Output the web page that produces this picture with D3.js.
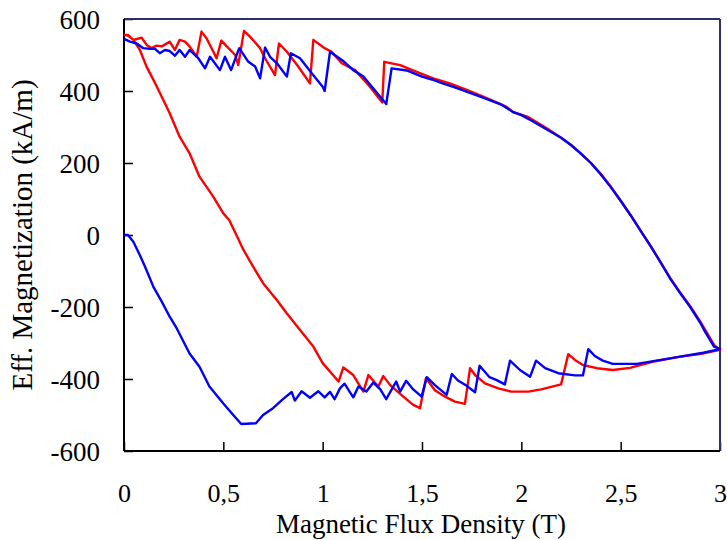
<!DOCTYPE html>
<html>
<head>
<meta charset="utf-8">
<script src="https://cdn.jsdelivr.net/npm/d3@7"></script>
<style>
  body { margin: 0; background: #fff; }
  svg { display: block; }
</style>
</head>
<body>
<svg id="svg1" width="727" height="540"></svg>
<script>
// tick values
var xTicks = [0, 0.5, 1, 1.5, 2, 2.5, 3];
var yTicks = [-600, -400, -200, 0, 200, 400, 600];

// red loop: descending branch, lower branch, upper branch (left to right)
var redDown = [[0,556],[0.02,556],[0.047,542],[0.08,514],[0.114,467],[0.148,431],[0.198,375],[0.23,338],
  [0.28,273],[0.33,227],[0.38,162],[0.45,106],[0.5,60],[0.53,41],[0.57,-5],[0.6,-40],[0.65,-88],[0.7,-134],
  [0.77,-181],[0.82,-218],[0.886,-264],[0.953,-310],[1.0,-356],[1.08,-407]];
var redLower = [[1.104,-368],[1.154,-389],[1.205,-435],[1.23,-389],[1.28,-421],[1.305,-392],[1.34,-417],
  [1.406,-449],[1.456,-472],[1.49,-481],[1.52,-398],[1.565,-431],[1.616,-449],[1.666,-463],[1.716,-469],
  [1.742,-370],[1.767,-389],[1.817,-412],[1.884,-426],[1.95,-435],[2.035,-435],[2.1,-429],[2.2,-415],
  [2.236,-331],[2.27,-347],[2.31,-361],[2.38,-370],[2.46,-375],[2.547,-369],[2.66,-352],[2.8,-338],
  [2.916,-329],[3.0,-319]];
var redUpper = [[0,556],[0.02,554],[0.047,542],[0.089,548],[0.114,528],[0.139,519],[0.164,526],[0.19,524],
  [0.23,537],[0.256,514],[0.28,542],[0.307,537],[0.33,524],[0.366,495],[0.39,565],[0.416,546],[0.466,491],
  [0.49,540],[0.517,524],[0.56,500],[0.575,472],[0.604,567],[0.634,551],[0.685,519],[0.71,491],[0.76,444],
  [0.78,532],[0.82,509],[0.877,468],[0.936,421],[0.953,542],[1.01,519],[1.045,509],[1.096,477],[1.163,458],
  [1.23,417],[1.29,375],[1.30,368],[1.31,481],[1.39,472],[1.47,454],[1.557,435],[1.64,421],[1.725,403],
  [1.826,380],[1.926,356],[1.96,341],[2.03,329],[2.13,296],[2.2,270],[2.25,250],[2.3,226],[2.35,200],
  [2.4,170],[2.45,135],[2.5,95],[2.55,55],[2.6,12],[2.65,-30],[2.7,-75],[2.75,-120],[2.8,-160],[2.85,-198],
  [2.9,-240],[2.93,-268],[2.97,-305],[3.0,-319]];

// blue loop: initial curve + lower branch, upper branch (left to right)
var blueLower = [[0,0],[0.02,0],[0.047,-19],[0.08,-56],[0.106,-88],[0.148,-144],[0.19,-185],[0.23,-227],
  [0.265,-259],[0.33,-329],[0.38,-366],[0.43,-421],[0.5,-468],[0.55,-500],[0.59,-525],[0.664,-523],
  [0.7,-500],[0.75,-481],[0.8,-456],[0.844,-436],[0.86,-460],[0.894,-434],[0.936,-452],[0.978,-434],
  [1.01,-451],[1.037,-436],[1.06,-456],[1.087,-426],[1.11,-413],[1.154,-451],[1.18,-421],[1.22,-435],
  [1.255,-410],[1.29,-429],[1.32,-456],[1.37,-407],[1.39,-435],[1.42,-405],[1.456,-429],[1.498,-449],
  [1.524,-395],[1.565,-417],[1.624,-444],[1.65,-386],[1.683,-405],[1.725,-419],[1.767,-437],[1.79,-363],
  [1.84,-395],[1.876,-403],[1.917,-415],[1.943,-349],[1.993,-375],[2.044,-394],[2.074,-349],[2.12,-370],
  [2.186,-384],[2.27,-390],[2.31,-390],[2.337,-317],[2.37,-336],[2.41,-349],[2.46,-358],[2.58,-358],
  [2.68,-349],[2.8,-338],[2.916,-327],[3.0,-317]];
var blueUpper = [[0,545],[0.03,537],[0.064,532],[0.097,519],[0.13,517],[0.156,517],[0.18,505],[0.206,514],
  [0.23,511],[0.256,498],[0.28,514],[0.307,495],[0.33,514],[0.374,491],[0.408,463],[0.433,495],[0.483,458],
  [0.508,495],[0.539,458],[0.58,519],[0.626,481],[0.66,468],[0.685,435],[0.71,521],[0.735,495],[0.77,477],
  [0.82,440],[0.84,505],[0.886,491],[0.945,449],[1.0,412],[1.01,400],[1.037,509],[1.1,485],[1.154,458],
  [1.205,440],[1.255,407],[1.32,364],[1.347,463],[1.423,457],[1.5,440],[1.55,432],[1.6,422],[1.65,413],
  [1.7,403],[1.8,383],[1.9,362],[1.96,341],[2.0,333],[2.05,318],[2.1,302],[2.2,270],[2.25,250],[2.3,226],
  [2.35,200],[2.4,168],[2.45,133],[2.5,95],[2.55,55],[2.6,12],[2.65,-30],[2.7,-75],[2.75,-122],[2.8,-162],
  [2.85,-200],[2.9,-243],[2.92,-264],[2.97,-310],[3.0,-317]];

var width = 727, height = 540;
var marginLeft = 124, marginTop = 19, plotW = 596, plotH = 432;
var font = "'Liberation Serif', 'Times New Roman', serif";

var svg = d3.select('#svg1')
    .append('g')
    .attr('transform', 'translate(' + marginLeft + ',' + marginTop + ')');

var scaleX = d3.scaleLinear().domain([0, 3]).range([0, plotW]);
var scaleY = d3.scaleLinear().domain([-600, 600]).range([plotH, 0]);

var fmtX = function(d){ return String(d).replace('.', ','); };
var fmtY = function(d){ return String(d); };   // plain hyphen for negatives

// axes with inward ticks
var gx = svg.append('g')
    .attr('transform', 'translate(0,' + plotH + ')')
    .call(d3.axisBottom(scaleX).tickValues(xTicks).tickFormat(fmtX).tickSizeInner(-9).tickSizeOuter(0).tickPadding(33));
var gy = svg.append('g')
    .call(d3.axisLeft(scaleY).tickValues(yTicks).tickFormat(fmtY).tickSizeInner(-9).tickSizeOuter(0).tickPadding(24));

[gx, gy].forEach(function(g){
  g.select('.domain').remove();
  g.selectAll('line').attr('stroke', '#000').attr('stroke-width', 1.5);
  g.selectAll('text').attr('font-family', font).attr('font-size', 27).attr('fill', '#000');
});
gx.selectAll('text').attr('font-size', 26);
gy.selectAll('text').attr('dy', '0.34em');

// frame: top/right navy, left/bottom black
svg.append('line').attr('x1', 0).attr('x2', plotW).attr('y1', 0).attr('y2', 0)
    .attr('stroke', '#2e2e6a').attr('stroke-width', 2);
svg.append('line').attr('x1', plotW).attr('x2', plotW).attr('y1', 0).attr('y2', plotH)
    .attr('stroke', '#2e2e6a').attr('stroke-width', 2);
svg.append('line').attr('x1', 0).attr('x2', 0).attr('y1', 0).attr('y2', plotH)
    .attr('stroke', '#000').attr('stroke-width', 2);
svg.append('line').attr('x1', 0).attr('x2', plotW).attr('y1', plotH).attr('y2', plotH)
    .attr('stroke', '#000').attr('stroke-width', 2);

var line = d3.line()
    .x(function(d){ return scaleX(d[0]); })
    .y(function(d){ return scaleY(d[1]); });

var redLoop = redDown.concat(redLower, redUpper.slice().reverse());
var blueLoop = blueLower.concat(blueUpper.slice().reverse());

svg.append('path').datum(redLoop).attr('d', line)
    .attr('fill', 'none').attr('stroke', '#ff0000').attr('stroke-width', 2.4).attr('stroke-linejoin', 'round');
svg.append('path').datum(blueLoop).attr('d', line)
    .attr('fill', 'none').attr('stroke', '#0000ff').attr('stroke-width', 2.4).attr('stroke-linejoin', 'round');

// axis titles
d3.select('#svg1').append('text')
    .attr('x', marginLeft + plotW / 2 - 1).attr('y', 533)
    .attr('text-anchor', 'middle')
    .attr('font-family', font).attr('font-size', 27)
    .text('Magnetic Flux Density (T)');
d3.select('#svg1').append('text')
    .attr('transform', 'translate(32,' + (marginTop + plotH / 2) + ') rotate(-90)')
    .attr('text-anchor', 'middle')
    .attr('font-family', font).attr('font-size', 29)
    .text('Eff. Magnetization (kA/m)');
</script>
</body>
</html>
